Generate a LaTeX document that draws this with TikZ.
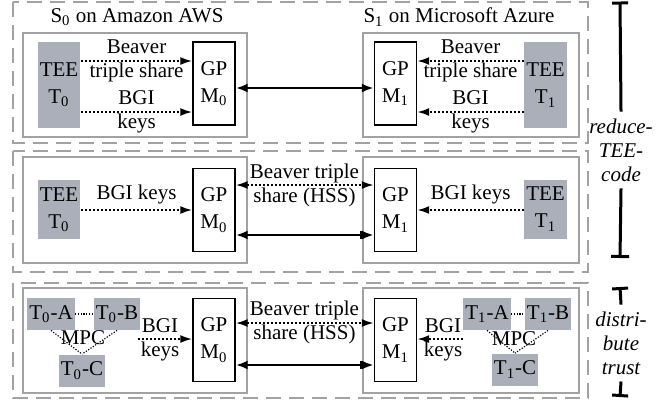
\documentclass[tikz,border=0pt]{standalone}
\usepackage{fontspec}
\setmainfont{Liberation Serif}
\usetikzlibrary{arrows.meta}

\definecolor{teegray}{RGB}{170,175,186}
\definecolor{boxgray}{RGB}{162,162,162}

\begin{document}
\begin{tikzpicture}[x=0.5pt,y=-0.5pt,font=\fontsize{10.5}{12}\selectfont]
	\tikzset{tee/.style={fill=teegray,minimum width=21pt,inner sep=1pt,align=center,font=\fontsize{10.5}{13.5}\selectfont}}
	\tikzset{gp/.style={draw=black,line width=0.7pt,minimum width=21pt,minimum height=41.5pt,inner sep=1pt,align=center,font=\fontsize{10.5}{13.5}\selectfont}}
	\tikzset{outerbox/.style={draw=boxgray,line width=1pt,dash pattern=on 7.5pt off 4pt}}
	\tikzset{innerbox/.style={draw=boxgray,line width=1pt}}
	\tikzset{data/.style={line width=1pt,dash pattern=on 1pt off 1pt,-{Latex[length=6pt,width=4pt]}}}
	\tikzset{share/.style={line width=1pt,dash pattern=on 1pt off 1pt,{Latex[length=6pt,width=4pt]}-{Latex[length=6pt,width=4pt]}}}
	\tikzset{link/.style={line width=1.3pt,{Latex[length=6pt,width=4.5pt]}-{Latex[length=6pt,width=4.5pt]}}}
	\tikzset{linkbar/.style={line width=1.3pt,{Latex[length=6pt,width=4.5pt]}-{Bar[width=4pt,line width=0.8pt]Latex[length=6pt,width=4.5pt]}}}
	\tikzset{mpc/.style={line width=0.6pt,dash pattern=on 0.6pt off 0.8pt}}
	\tikzset{spanbar/.style={line width=1.5pt}}

	\useasboundingbox (0,0) rectangle (672,404);

	% servers
	\draw[outerbox] (13,2) rectangle (588,143);
	\draw[outerbox] (13,151) rectangle (588,272);
	\draw[outerbox] (13,283) rectangle (588,398);
	\draw[innerbox] (23,33) rectangle (247,137);
	\draw[innerbox] (363,33) rectangle (579,137);
	\draw[innerbox] (23,157) rectangle (247,263);
	\draw[innerbox] (363,157) rectangle (579,263);
	\draw[innerbox] (23,288) rectangle (247,393);
	\draw[innerbox] (363,288) rectangle (579,393);
	\node (s0) at (137,17) {S\textsubscript{0} on Amazon AWS};
	\node (s1) at (459,17) {S\textsubscript{1} on Microsoft Azure};

	% row 1
	\node[tee,minimum height=43pt] (ta) at (59,85) {TEE\\T\textsubscript{0}};
	\node[gp] (ma) at (214,83.5) {GP\\M\textsubscript{0}};
	\node[gp] (na) at (395.5,83.5) {GP\\M\textsubscript{1}};
	\node[tee,minimum height=43pt] (ua) at (545.5,85) {TEE\\T\textsubscript{1}};
	\draw[data] (ta.east |- 0,61) -- (ma.west |- 0,61);
	\draw[data] (ta.east |- 0,112) -- (ma.west |- 0,112);
	\node[align=center] (bta) at (136.5,61) {Beaver\\triple share};
	\node[align=center] (bka) at (136.5,112) {BGI\\keys};
	\draw[data] (ua.west |- 0,61) -- (na.east |- 0,61);
	\draw[data] (ua.west |- 0,112) -- (na.east |- 0,112);
	\node[align=center] (btb) at (470.5,61) {Beaver\\triple share};
	\node[align=center] (bkb) at (470.5,112) {BGI\\keys};
	\draw[link] (ma.east |- 0,88) -- (na.west |- 0,88);

	% row 2
	\node[tee,minimum height=29.5pt] (tb) at (59,209.5) {TEE\\T\textsubscript{0}};
	\node[gp] (mb) at (214,210) {GP\\M\textsubscript{0}};
	\node[gp] (nb) at (395.5,210) {GP\\M\textsubscript{1}};
	\node[tee,minimum height=29.5pt] (ub) at (545.5,209) {TEE\\T\textsubscript{1}};
	\draw[data] (tb.east |- 0,210) -- (mb.west |- 0,210) node[midway,above=-1pt] (bkc) {BGI keys};
	\draw[data] (ub.west |- 0,210) -- (nb.east |- 0,210) node[midway,above=-1pt] (bkd) {BGI keys};
	\draw[share] (mb.east |- 0,185) -- (nb.west |- 0,185);
	\node[align=center] (hsb) at (304.5,185) {Beaver triple\\share (HSS)};
	\draw[linkbar] (mb.east |- 0,235) -- (nb.west |- 0,235);

	% row 3
	\node[tee,minimum height=16pt] (tca) at (51,314) {T\textsubscript{0}-A};
	\node[tee,minimum height=16pt] (tcb) at (117,314) {T\textsubscript{0}-B};
	\node[tee,minimum height=16pt] (tcc) at (82,370.5) {T\textsubscript{0}-C};
	\draw[mpc] (tca) -- (tcb);
	\draw[mpc] (tca.south) -- (tcc.north);
	\draw[mpc] (tcb.south) -- (tcc.north);
	\node (mpca) at (83,338) {MPC};
	\node[gp] (mc) at (214,340) {GP\\M\textsubscript{0}};
	\coordinate (ga) at (138,339);
	\draw[data] (ga) -- (ga -| mc.west);
	\node[align=center] (bke) at (160,340) {BGI\\keys};

	\node[tee,minimum height=16pt] (uca) at (487,314) {T\textsubscript{1}-A};
	\node[tee,minimum height=16pt] (ucb) at (548,314) {T\textsubscript{1}-B};
	\node[tee,minimum height=16pt] (ucc) at (515,369.5) {T\textsubscript{1}-C};
	\draw[mpc] (uca) -- (ucb);
	\draw[mpc] (uca.south) -- (ucc.north);
	\draw[mpc] (ucb.south) -- (ucc.north);
	\node (mpcb) at (514,339) {MPC};
	\node[gp] (nc) at (395.5,340) {GP\\M\textsubscript{1}};
	\coordinate (gb) at (463,339);
	\draw[data] (gb) -- (gb -| nc.east);
	\node[align=center] (bkf) at (443,340) {BGI\\keys};

	\draw[share] (mc.east |- 0,323) -- (nc.west |- 0,323);
	\node[align=center] (hsc) at (304.5,322) {Beaver triple\\share (HSS)};
	\draw[linkbar] (mc.east |- 0,365) -- (nc.west |- 0,365);

	% scope marks
	\node[align=center,font=\fontsize{10.5}{12}\itshape] (red) at (621,150) {reduce-\\TEE-\\code};
	\coordinate (rta) at (620,1.5);
	\coordinate (rtb) at (620,258);
	\draw[spanbar,{Bar[width=8pt]}-] (rta) -- (red.north);
	\draw[spanbar,-{Bar[width=9pt]}] (red.south) -- (rtb);
	\node[align=center,font=\fontsize{10.5}{12}\itshape] (dis) at (621,343) {distri-\\bute\\trust};
	\coordinate (dta) at (620,287);
	\coordinate (dtb) at (620,397);
	\draw[spanbar,{Bar[width=8pt]}-] (dta) -- (dis.north);
	\draw[spanbar,-{Bar[width=8pt]}] (dis.south) -- (dtb);
\end{tikzpicture}
\end{document}
